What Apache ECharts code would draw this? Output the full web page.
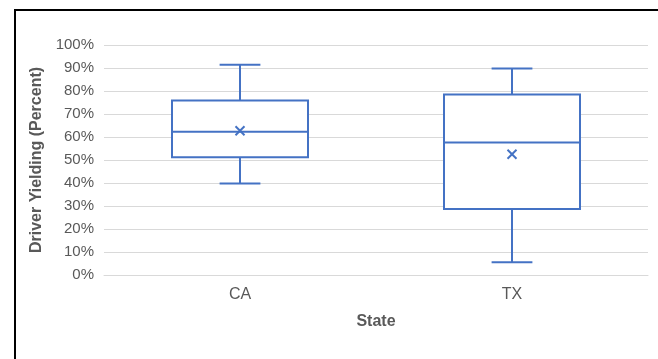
<!DOCTYPE html>
<html>
<head>
<meta charset="utf-8">
<script src="https://cdn.jsdelivr.net/npm/echarts@6/dist/echarts.min.js"></script>
<style>
	html, body { margin: 0; padding: 0; background: #fff; }
	#main { width: 658px; height: 359px; }
</style>
</head>
<body>
<div id="main"></div>
<script>
	// 箱线图数据 (百分比)
	const states = ['CA', 'TX']
	const whiskerMin = [39.8, 5.5]
	const q1 = [51.2, 28.7]
	const median = [62.3, 57.6]
	const q3 = [75.9, 78.5]
	const whiskerMax = [91.4, 89.8]
	const means = [62.7, 52.5]

	const boxColor = '#4472c4'
	const textColor = '#595959'
	const font = 'Liberation Sans'

	const boxData = states.map((s, i) => [i, whiskerMin[i], q1[i], median[i], q3[i], whiskerMax[i]])
	const meanData = states.map((s, i) => [i, means[i]])

	const chart = echarts.init(document.getElementById('main'))
	const option = {
		animation: false,
		grid: { left: 104, right: 10, top: 45, bottom: 84 },
		graphic: [
			{ type: 'line', shape: { x1: 14, y1: 10, x2: 658, y2: 10 }, style: { stroke: '#000', lineWidth: 2 } },
			{ type: 'line', shape: { x1: 15, y1: 9, x2: 15, y2: 359 }, style: { stroke: '#000', lineWidth: 2 } }
		],
		xAxis: {
			type: 'category',
			data: states,
			name: 'State',
			nameLocation: 'middle',
			nameGap: 39,
			nameTextStyle: { color: textColor, fontWeight: 'bold', fontSize: 16, fontFamily: font },
			axisLine: { lineStyle: { color: '#d9d9d9' } },
			axisTick: { show: false },
			axisLabel: { color: textColor, fontSize: 16, margin: 12, fontFamily: font }
		},
		yAxis: {
			type: 'value',
			min: 0,
			max: 100,
			interval: 10,
			name: 'Driver Yielding (Percent)',
			nameLocation: 'middle',
			nameGap: 58,
			nameTextStyle: { color: textColor, fontWeight: 'bold', fontSize: 16, fontFamily: font },
			axisLine: { show: false },
			axisTick: { show: false },
			axisLabel: { color: textColor, fontSize: 15, margin: 10, formatter: '{value}%', fontFamily: font },
			splitLine: { lineStyle: { color: '#d9d9d9' } }
		},
		series: [
			{
				type: 'custom',
				data: boxData,
				renderItem: (params, api) => {
					const i = api.value(0)
					const bandW = api.size([1, 0])[0]
					const half = bandW * 0.25
					const cap = bandW * 0.075
					const pMin = api.coord([i, api.value(1)])
					const pQ1 = api.coord([i, api.value(2)])
					const pMed = api.coord([i, api.value(3)])
					const pQ3 = api.coord([i, api.value(4)])
					const pMax = api.coord([i, api.value(5)])
					const x = pMin[0]
					const style = { stroke: boxColor, lineWidth: 2, fill: null }
					return {
						type: 'group',
						children: [
							{ type: 'rect', shape: { x: x - half, y: pQ3[1], width: half * 2, height: pQ1[1] - pQ3[1] }, style: { stroke: boxColor, lineWidth: 2, fill: '#fff' } },
							{ type: 'line', shape: { x1: x - half, y1: pMed[1], x2: x + half, y2: pMed[1] }, style },
							{ type: 'line', shape: { x1: x, y1: pQ3[1], x2: x, y2: pMax[1] }, style },
							{ type: 'line', shape: { x1: x, y1: pQ1[1], x2: x, y2: pMin[1] }, style },
							{ type: 'line', shape: { x1: x - cap, y1: pMax[1], x2: x + cap, y2: pMax[1] }, style },
							{ type: 'line', shape: { x1: x - cap, y1: pMin[1], x2: x + cap, y2: pMin[1] }, style }
						]
					}
				}
			},
			{
				type: 'custom',
				data: meanData,
				z: 3,
				renderItem: (params, api) => {
					const p = api.coord([api.value(0), api.value(1)])
					const s = 4.5
					const style = { stroke: boxColor, lineWidth: 2 }
					return {
						type: 'group',
						children: [
							{ type: 'line', shape: { x1: p[0] - s, y1: p[1] - s, x2: p[0] + s, y2: p[1] + s }, style },
							{ type: 'line', shape: { x1: p[0] - s, y1: p[1] + s, x2: p[0] + s, y2: p[1] - s }, style }
						]
					}
				}
			}
		]
	}
	chart.setOption(option)
</script>
</body>
</html>
